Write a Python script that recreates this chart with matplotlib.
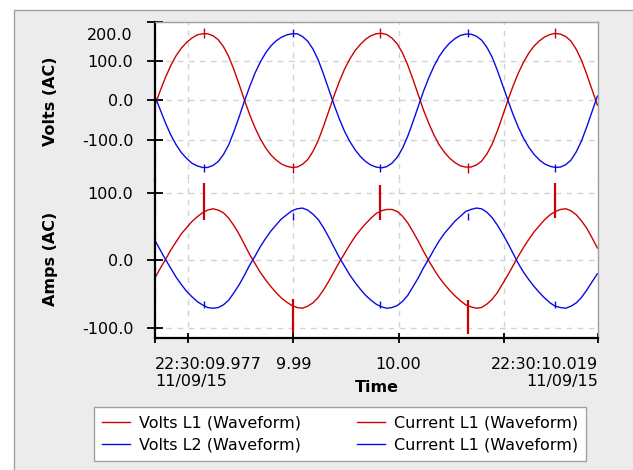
import numpy as np
import matplotlib
matplotlib.use('Agg')
import matplotlib.pyplot as plt
from matplotlib.patches import Rectangle

# waveform capture, 0.5 ms sample clock starting at the left edge of the window
t0 = 9.97687
dt = 0.0005

volts_l1 = [-12, 25, 59, 89, 114, 133, 148, 159, 167, 170,
            170, 165, 155, 137, 112, 78, 40, 0, -37, -70,
            -98, -121, -139, -152, -162, -168, -171, -170, -163, -151,
            -130, -102, -66, -27, 12, 48, 80, 106, 127, 143,
            156, 165, 170, 171, 168, 159, 144, 121, 90, 53,
            14, -25, -59, -89, -114, -133, -148, -159, -167, -170,
            -170, -165, -155, -137, -112, -78, -40, 0, 37, 70,
            98, 121, 139, 152, 162, 168, 171, 169, 163, 151,
            130, 102, 66, 27, -12]
volts_l2 = [10, -24, -58, -88, -113, -133, -148, -160, -167, -171,
            -171, -166, -156, -138, -113, -79, -41, -1, 36, 70,
            98, 121, 139, 152, 161, 167, 170, 170, 163, 151,
            131, 103, 67, 28, -11, -47, -79, -105, -126, -143,
            -156, -165, -170, -172, -169, -160, -145, -122, -91, -54,
            -15, 24, 58, 88, 113, 132, 147, 158, 166, 169,
            169, 164, 154, 136, 111, 77, 39, 1, -36, -69,
            -97, -120, -138, -152, -162, -168, -171, -170, -164, -152,
            -131, -103, -67, -28, 11]
amps_l1_red = [-26, -12, 1, 15, 27, 39, 48, 57, 64, 70,
               74, 76, 74, 70, 62, 51, 38, 23, 8, -5,
               -18, -29, -39, -48, -56, -62, -67, -70, -71, -68,
               -63, -55, -44, -31, -17, -3, 10, 23, 35, 45,
               54, 62, 69, 73, 75, 75, 72, 65, 55, 42,
               28, 13, -1, -14, -26, -36, -45, -53, -60, -66,
               -69, -71, -70, -65, -58, -48, -35, -22, -8, 6,
               19, 31, 42, 51, 60, 67, 72, 75, 76, 73,
               67, 58, 47, 33, 18]
amps_l1_blue = [29, 15, 1, -12, -25, -36, -46, -54, -61, -66,
                -70, -71, -70, -66, -59, -48, -36, -22, -7, 6,
                20, 32, 43, 52, 61, 67, 73, 76, 77, 74,
                68, 60, 48, 34, 19, 4, -9, -22, -33, -43,
                -52, -59, -65, -69, -71, -70, -67, -61, -52, -39,
                -26, -11, 2, 16, 29, 40, 49, 58, 65, 72,
                75, 77, 76, 71, 63, 52, 39, 25, 10, -5,
                -18, -29, -39, -48, -56, -63, -68, -70, -71, -68,
                -63, -55, -44, -32, -20]

# switching glitches at the voltage peaks
spike_t = [9.98152, 9.98998, 9.99824, 10.00660, 10.01486]
amps_red_spike_lo = [60, -108, 60, -109, 62]
amps_red_spike_hi = [114, -58, 111, -59, 114]
amps_blue_spike_lo = [-70, 60, -70, 60, -70]
amps_blue_spike_hi = [-60, 70, -60, 70, -60]
volts_red_spike_lo = [160, -185, 160, -185, 160]
volts_red_spike_hi = [185, -160, 185, -160, 185]
volts_blue_spike_lo = [-182, 162, -182, 162, -182]
volts_blue_spike_hi = [-162, 182, -162, 182, -162]

x_ticks = [9.97687, 9.98, 9.99, 10.00, 10.01, 10.01893]
x_labels = ['22:30:09.977\n11/09/15', '', '9.99', '10.00', '', '22:30:10.019\n11/09/15']
x_label_ha = ['left', 'center', 'center', 'center', 'center', 'right']
volts_ticks = [200, 100, 0, -100]
amps_ticks = [100, 0, -100]

t = t0 + dt * np.arange(len(volts_l1))

RED = '#cc0000'
BLUE = '#0a0ae6'
GRID = '#d2d2d2'
EDGE = '#a0a0a0'
FS = 11.5

fig = plt.figure(figsize=(6.33, 4.70), dpi=100)
fig.patch.set_facecolor('white')
fig.add_artist(Rectangle((14 / 633, -0.2), 1.2, 1.2 - 10 / 470, transform=fig.transFigure,
                         facecolor='#ececec', edgecolor=EDGE, lw=1, zorder=0))

ax_v = fig.add_axes([155 / 633, 1 - 180 / 470, 443 / 633, 158 / 470])
ax_a = fig.add_axes([155 / 633, 1 - 338 / 470, 443 / 633, 158 / 470])

l1, = ax_v.plot(t, volts_l1, color=RED, lw=1.0)
l2, = ax_v.plot(t, volts_l2, color=BLUE, lw=1.0)
ax_v.vlines(spike_t, volts_red_spike_lo, volts_red_spike_hi, color=RED, lw=1.0)
ax_v.vlines(spike_t, volts_blue_spike_lo, volts_blue_spike_hi, color=BLUE, lw=1.0)

l3, = ax_a.plot(t, amps_l1_red, color=RED, lw=1.0)
l4, = ax_a.plot(t, amps_l1_blue, color=BLUE, lw=1.0)
ax_a.vlines(spike_t, amps_red_spike_lo, amps_red_spike_hi, color=RED, lw=1.6)
ax_a.vlines(spike_t, amps_blue_spike_lo, amps_blue_spike_hi, color=BLUE, lw=1.0)

for ax in (ax_v, ax_a):
    ax.set_facecolor('white')
    ax.set_xlim(x_ticks[0], x_ticks[-1])
    ax.set_xticks(x_ticks)
    ax.grid(True, color=GRID, linestyle=(0, (4, 4)), lw=1)
    ax.tick_params(axis='y', direction='inout', length=12, width=1.3, pad=9.5,
                   labelsize=FS, colors='black')
    ax.spines['left'].set_linewidth(1.6)
    ax.spines['right'].set_color(EDGE)
    ax.spines['right'].set_linewidth(1)

# volts panel
ax_v.set_ylim(-203, 200)
ax_v.set_yticks(volts_ticks, labels=['', '100.0', '0.0', '-100.0'])
ax_v.annotate('200.0', xy=(0, 200), xycoords=('axes fraction', 'data'),
              xytext=(-22, -13), textcoords='offset pixels', ha='right', va='center', fontsize=FS)
ax_v.tick_params(axis='x', bottom=False, labelbottom=False)
ax_v.spines['bottom'].set_visible(False)
ax_v.spines['top'].set_color(EDGE)
ax_v.spines['top'].set_linewidth(1)
ax_v.set_ylabel('Volts (AC)', fontsize=FS, fontweight='bold')
ax_v.yaxis.set_label_coords(-0.237, 0.5)
ax_v.yaxis.label.set_va('center')

# amps panel
ax_a.set_ylim(-115, 118.5)
ax_a.set_yticks(amps_ticks, labels=['100.0', '0.0', '-100.0'])
ax_a.spines['top'].set_visible(False)
ax_a.spines['bottom'].set_linewidth(1.6)
ax_a.tick_params(axis='x', direction='inout', length=7, width=1.3, pad=10, labelsize=FS)
ax_a.set_xticks(x_ticks, labels=x_labels)
for lbl, ha in zip(ax_a.get_xticklabels(), x_label_ha):
    lbl.set_ha(ha)
ax_a.set_ylabel('Amps (AC)', fontsize=FS, fontweight='bold')
ax_a.yaxis.set_label_coords(-0.237, 0.5)
ax_a.yaxis.label.set_va('center')
ax_a.set_xlabel('Time', fontsize=FS, fontweight='bold')
ax_a.xaxis.set_label_coords(0.5, (338 - 388) / 158)
ax_a.xaxis.label.set_va('center')

leg = fig.legend([l1, l2, l3, l4],
                 ['Volts L1 (Waveform)', 'Volts L2 (Waveform)',
                  'Current L1 (Waveform)', 'Current L1 (Waveform)'],
                 ncol=2, loc='center', mode='expand',
                 bbox_to_anchor=(94 / 633, 1 - 461 / 470, 492 / 633, 54 / 470),
                 fontsize=FS, fancybox=False, edgecolor=EDGE, framealpha=1,
                 handlelength=1.75, handletextpad=0.56, labelspacing=0.45,
                 borderpad=0.5, borderaxespad=0)
leg.get_frame().set_linewidth(1)

fig.savefig('out.png', dpi=100)
